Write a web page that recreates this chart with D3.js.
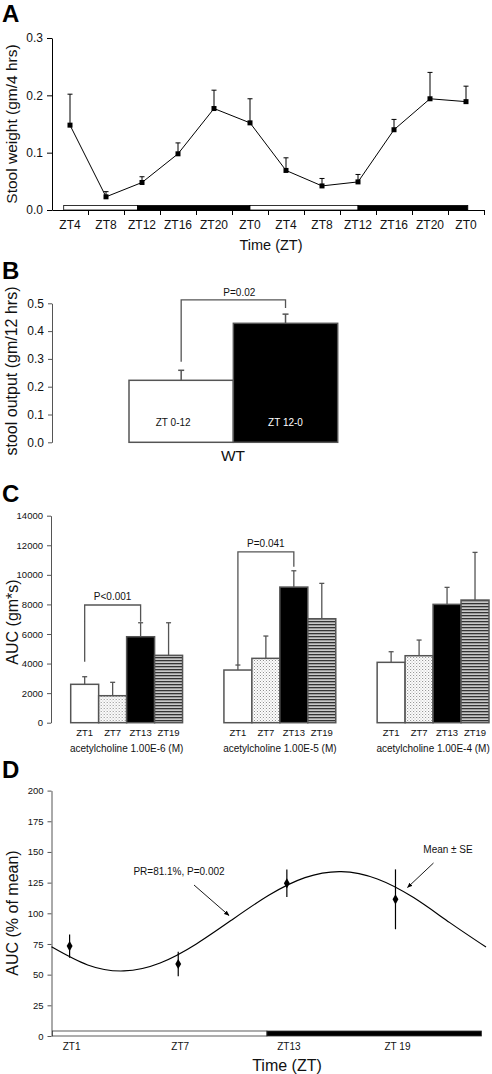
<!DOCTYPE html>
<html><head><meta charset="utf-8">
<script src="https://cdn.jsdelivr.net/npm/d3@7"></script>
<style>
html,body{margin:0;padding:0;background:#fff;}
svg{display:block;font-family:"Liberation Sans",Arial,sans-serif;}
</style></head>
<body><svg id="chart" width="492" height="1074"></svg>
<script>
// ---------- Panel A data ----------
const aLabels = ["ZT4","ZT8","ZT12","ZT16","ZT20","ZT0","ZT4","ZT8","ZT12","ZT16","ZT20","ZT0"];
const aMeans  = [0.148,0.023,0.048,0.098,0.177,0.152,0.069,0.042,0.049,0.140,0.194,0.189];
const aSE     = [0.054,0.009,0.010,0.019,0.032,0.042,0.022,0.013,0.013,0.018,0.046,0.027];
const aYTicks = [0.0,0.1,0.2,0.3];
const aLightDark = [[3.3,11.5,"light"],[11.5,24,"dark"],[24,36,"light"],[36,48.2,"dark"]]; // hours
// ---------- Panel B data ----------
const bLabels = ["ZT 0-12","ZT 12-0"];
const bMeans  = [0.223,0.428];
const bSE     = [0.036,0.033];
const bYTicks = [0.0,0.1,0.2,0.3,0.4,0.5];
const bBracket = {top:0.512, leftBottom:0.29, rightBottom:0.483, label:"P=0.02"};
// ---------- Panel C data ----------
const cGroups = ["acetylcholine 1.00E-6 (M)","acetylcholine 1.00E-5 (M)","acetylcholine 1.00E-4 (M)"];
const cTimes  = ["ZT1","ZT7","ZT13","ZT19"];
const cMeans  = [[2596,1825,5814,4556],[3562,4353,9173,7031],[4083,4530,8004,8295]];
const cSE     = [[514,906,946,2204],[338,1508,1102,2392],[717,1060,1149,3224]];
const cYTicks = [0,2000,4000,6000,8000,10000,12000,14000];
const cBrackets = [
  {group:0, from:"ZT1", to:"ZT13", top:7960, leftBottom:4120, rightBottom:6830, label:"P<0.001"},
  {group:1, from:"ZT1", to:"ZT13", top:11560, leftBottom:3900, rightBottom:10550, label:"P=0.041"}
];
// ---------- Panel D data ----------
const dHours  = [1,7,13,19];
const dLabels = ["ZT1","ZT7","ZT13","ZT 19"];
const dMeans  = [73.3,58.7,124.4,111.4];
const dSE     = [9.5,10.0,11.2,24.4];
const dYTicks = [0,25,50,75,100,125,150,175,200];
const dCurveHours  = [0,2,4,6,8,10,12,14,16,18,20,22,24];
const dCurveValues = [72.7,57.9,53.0,59.5,75.0,95.0,114.7,129.1,134.0,128.0,112.8,92.4,72.5];
const dLightDark = [[0.05,11.9,"light"],[11.9,23.75,"dark"]];

const svg = d3.select("#chart");
const FONT = "'Liberation Sans',Arial,sans-serif";
const GREY = "#555";

function styleAxis(g, color, fs){
  g.selectAll("path,line").attr("stroke", color).attr("stroke-width",1);
  g.selectAll("text").attr("fill","#111").style("font-size",fs+"px").style("font-family",FONT);
}
function panelLetter(t,x,y){
  svg.append("text").attr("x",x).attr("y",y).text(t)
    .style("font-size","24px").style("font-weight","bold").attr("fill","#000");
}
function yLabel(t,x,cy,fs){
  svg.append("text").attr("transform",`translate(${x},${cy}) rotate(-90)`)
    .attr("text-anchor","middle").style("font-size",fs+"px").attr("fill","#111").text(t);
}

// defs
const defs = svg.append("defs");
const dots = defs.append("pattern").attr("id","dots").attr("patternUnits","userSpaceOnUse").attr("width",3).attr("height",3);
dots.append("rect").attr("width",3).attr("height",3).attr("fill","#fff");
dots.append("rect").attr("x",0).attr("y",0).attr("width",1).attr("height",1).attr("fill","#888");
dots.append("rect").attr("x",1.5).attr("y",1.5).attr("width",1).attr("height",1).attr("fill","#aaa");
const stripes = defs.append("pattern").attr("id","stripes").attr("patternUnits","userSpaceOnUse").attr("width",4).attr("height",3);
stripes.append("rect").attr("width",4).attr("height",3).attr("fill","#c8c8c8");
stripes.append("rect").attr("y",0).attr("width",4).attr("height",1.3).attr("fill","#333");
defs.append("marker").attr("id","arrow").attr("viewBox","0 0 10 10").attr("refX",9).attr("refY",5)
  .attr("markerWidth",6).attr("markerHeight",6).attr("orient","auto")
  .append("path").attr("d","M0,1 L10,5 L0,9 z").attr("fill","#000");

// ================= Panel A =================
panelLetter("A",2,22);
{
  const y = d3.scaleLinear().domain([0,0.3]).range([210,38]);
  const x = d3.scaleBand().domain(d3.range(aLabels.length)).range([52,484]).padding(0);
  const xEdge = d3.scaleLinear().domain([0,aLabels.length]).range([52,484]);
  const xh = d3.scaleLinear().domain([4,48]).range([x(0)+x.bandwidth()/2, x(11)+x.bandwidth()/2]);

  const ga = svg.append("g").attr("transform","translate(52,0)")
    .call(d3.axisLeft(y).tickValues(aYTicks).tickFormat(d3.format(".1f")).tickSize(5).tickSizeOuter(0).tickPadding(4));
  styleAxis(ga,"#000",12);
  const gb = svg.append("g").attr("transform","translate(0,210)")
    .call(d3.axisBottom(xEdge).tickValues(d3.range(1,aLabels.length+1)).tickFormat("").tickSize(5).tickSizeOuter(0));
  styleAxis(gb,"#000",12);
  svg.append("g").selectAll("text").data(aLabels).join("text")
    .attr("x",(d,i)=>x(i)+x.bandwidth()/2).attr("y",229).attr("text-anchor","middle")
    .style("font-size","12px").attr("fill","#111").text(d=>d);

  // light/dark bar
  svg.append("g").selectAll("rect").data(aLightDark).join("rect")
    .attr("x",d=>xh(d[0])).attr("width",d=>xh(d[1])-xh(d[0]))
    .attr("y",205.5).attr("height",4.5)
    .attr("fill",d=>d[2]==="dark"?"#000":"#fff").attr("stroke","#000").attr("stroke-width",0.8);

  const cx = i=>x(i)+x.bandwidth()/2;
  // error bars
  const eb = svg.append("g").attr("stroke","#000").attr("stroke-width",1);
  aMeans.forEach((m,i)=>{
    eb.append("line").attr("x1",cx(i)).attr("x2",cx(i)).attr("y1",y(m)).attr("y2",y(m+aSE[i]));
    eb.append("line").attr("x1",cx(i)-2.5).attr("x2",cx(i)+2.5).attr("y1",y(m+aSE[i])).attr("y2",y(m+aSE[i]));
  });
  svg.append("path").datum(aMeans)
    .attr("d",d3.line().x((d,i)=>cx(i)).y(d=>y(d)))
    .attr("fill","none").attr("stroke","#000").attr("stroke-width",1);
  svg.append("g").selectAll("rect").data(aMeans).join("rect")
    .attr("x",(d,i)=>cx(i)-2.5).attr("y",d=>y(d)-2.5).attr("width",5).attr("height",5).attr("fill","#000");

  yLabel("Stool weight (gm/4 hrs)",17,124,15.5);
  svg.append("text").attr("x",271).attr("y",250).attr("text-anchor","middle")
    .style("font-size","14.5px").attr("fill","#111").text("Time (ZT)");
}

// ================= Panel B =================
panelLetter("B",2,279);
{
  const y = d3.scaleLinear().domain([0,0.5]).range([442.3,303.3]);
  const x = d3.scaleBand().domain(bLabels).range([129,337.7]).padding(0);
  const ga = svg.append("g").attr("transform","translate(52,0)")
    .call(d3.axisLeft(y).tickValues(bYTicks).tickFormat(d3.format(".1f")).tickSize(4).tickSizeOuter(0).tickPadding(4));
  styleAxis(ga,GREY,12);

  svg.append("g").selectAll("rect").data(bMeans).join("rect")
    .attr("x",(d,i)=>x(bLabels[i])).attr("width",x.bandwidth())
    .attr("y",d=>y(d)).attr("height",d=>y(0)-y(d))
    .attr("fill",(d,i)=>i===0?"#fff":"#000").attr("stroke",GREY).attr("stroke-width",1.5);
  const eb = svg.append("g").attr("stroke",GREY).attr("stroke-width",1.5);
  bMeans.forEach((m,i)=>{
    const c = x(bLabels[i])+x.bandwidth()/2;
    eb.append("line").attr("x1",c).attr("x2",c).attr("y1",y(m)).attr("y2",y(m+bSE[i]));
    eb.append("line").attr("x1",c-3).attr("x2",c+3).attr("y1",y(m+bSE[i])).attr("y2",y(m+bSE[i]));
  });
  const c0 = x(bLabels[0])+x.bandwidth()/2, c1 = x(bLabels[1])+x.bandwidth()/2;
  svg.append("path")
    .attr("d",`M${c0},${y(bBracket.leftBottom)}V${y(bBracket.top)}H${c1}V${y(bBracket.rightBottom)}`)
    .attr("fill","none").attr("stroke",GREY).attr("stroke-width",1.3);
  svg.append("text").attr("x",(c0+c1)/2+6).attr("y",y(bBracket.top)-4).attr("text-anchor","middle")
    .style("font-size","10px").attr("fill","#111").text(bBracket.label);
  svg.append("g").selectAll("text").data(bLabels).join("text")
    .attr("x",d=>x(d)+x.bandwidth()/2-(d===bLabels[0]?8:0)).attr("y",425.5).attr("text-anchor","middle")
    .style("font-size","10px").attr("fill",(d,i)=>i===0?"#111":"#fff").text(d=>d);
  svg.append("text").attr("x",233).attr("y",461).attr("text-anchor","middle")
    .style("font-size","15.5px").attr("fill","#111").text("WT");
  yLabel("stool output (gm/12 hrs)",17,371,16);
}

// ================= Panel C =================
panelLetter("C",2,502);
{
  const y = d3.scaleLinear().domain([0,14000]).range([722.7,515.7]);
  const xg = d3.scaleBand().domain(cGroups).range([70.7,489]).paddingInner(0.27).paddingOuter(0);
  const xt = d3.scaleBand().domain(cTimes).range([0,xg.bandwidth()]).padding(0);
  const ga = svg.append("g").attr("transform","translate(51,0)")
    .call(d3.axisLeft(y).tickValues(cYTicks).tickFormat(d3.format("d")).tickSize(4).tickSizeOuter(0).tickPadding(4));
  styleAxis(ga,GREY,9.5);
  const fills = ["#fff","url(#dots)","#000","url(#stripes)"];
  cGroups.forEach((gname,gi)=>{
    const g = svg.append("g").attr("transform",`translate(${xg(gname)},0)`);
    g.selectAll("rect").data(cMeans[gi]).join("rect")
      .attr("x",(d,i)=>xt(cTimes[i])).attr("width",xt.bandwidth())
      .attr("y",d=>y(d)).attr("height",d=>y(0)-y(d))
      .attr("fill",(d,i)=>fills[i]).attr("stroke",GREY).attr("stroke-width",1.5);
    const eb = g.append("g").attr("stroke",GREY).attr("stroke-width",1.3);
    cMeans[gi].forEach((m,i)=>{
      const c = xt(cTimes[i])+xt.bandwidth()/2, top = y(m+cSE[gi][i]);
      eb.append("line").attr("x1",c).attr("x2",c).attr("y1",y(m)).attr("y2",top);
      eb.append("line").attr("x1",c-2.5).attr("x2",c+2.5).attr("y1",top).attr("y2",top);
    });
    g.selectAll("text.t").data(cTimes).join("text").attr("class","t")
      .attr("x",d=>xt(d)+xt.bandwidth()/2).attr("y",735.5).attr("text-anchor","middle")
      .style("font-size","9.5px").attr("fill","#111").text(d=>d);
    g.append("text").attr("x",xg.bandwidth()/2).attr("y",751.5).attr("text-anchor","middle")
      .style("font-size","10px").attr("fill","#111").text(gname);
  });
  cBrackets.forEach(b=>{
    const gx = xg(cGroups[b.group]);
    const l = gx+xt(b.from)+xt.bandwidth()/2, r = gx+xt(b.to)+xt.bandwidth()/2;
    svg.append("path").attr("d",`M${l},${y(b.leftBottom)}V${y(b.top)}H${r}V${y(b.rightBottom)}`)
      .attr("fill","none").attr("stroke",GREY).attr("stroke-width",1.3);
    svg.append("text").attr("x",(l+r)/2).attr("y",y(b.top)-5).attr("text-anchor","middle")
      .style("font-size","10px").attr("fill","#111").text(b.label);
  });
  yLabel("AUC (gm*s)",18,622,16);
}

// ================= Panel D =================
panelLetter("D",2,778);
{
  const y = d3.scaleLinear().domain([0,200]).range([1036,790.6]);
  const x = d3.scaleLinear().domain([0,24]).range([51.5,486]);
  const ga = svg.append("g").attr("transform","translate(51.5,0)")
    .call(d3.axisLeft(y).tickValues(dYTicks).tickSize(4).tickSizeOuter(0).tickPadding(4));
  styleAxis(ga,GREY,9.5);
  svg.append("g").selectAll("rect").data(dLightDark).join("rect")
    .attr("x",d=>x(d[0])).attr("width",d=>x(d[1])-x(d[0]))
    .attr("y",1031).attr("height",5)
    .attr("fill",d=>d[2]==="dark"?"#000":"#fff").attr("stroke","#333").attr("stroke-width",0.8);
  svg.append("g").selectAll("text").data(dLabels).join("text")
    .attr("x",(d,i)=>x(dHours[i])+2).attr("y",1049.5).attr("text-anchor","middle")
    .style("font-size","10px").attr("fill","#111").text(d=>d);
  svg.append("path").datum(dCurveValues)
    .attr("d",d3.line().x((d,i)=>x(dCurveHours[i])).y(d=>y(d)).curve(d3.curveNatural))
    .attr("fill","none").attr("stroke","#000").attr("stroke-width",1.2);
  const eb = svg.append("g").attr("stroke","#000").attr("stroke-width",1.2);
  dMeans.forEach((m,i)=>{
    eb.append("line").attr("x1",x(dHours[i])).attr("x2",x(dHours[i])).attr("y1",y(m-dSE[i])).attr("y2",y(m+dSE[i]));
  });
  svg.append("g").selectAll("path.pt").data(dMeans).join("path").attr("class","pt")
    .attr("transform",(d,i)=>`translate(${x(dHours[i])},${y(d)})`)
    .attr("d",d3.symbol(d3.symbolDiamond,30)).attr("fill","#000");
  // annotations
  svg.append("text").attr("x",179).attr("y",875).attr("text-anchor","middle")
    .style("font-size","10px").attr("fill","#111").text("PR=81.1%, P=0.002");
  svg.append("line").attr("x1",194).attr("y1",885).attr("x2",229).attr("y2",915.5)
    .attr("stroke","#000").attr("stroke-width",0.9).attr("marker-end","url(#arrow)");
  svg.append("text").attr("x",448).attr("y",852.5).attr("text-anchor","middle")
    .style("font-size","10px").attr("fill","#111").text("Mean ± SE");
  svg.append("line").attr("x1",433.5).attr("y1",863).attr("x2",407.5).attr("y2",887.5)
    .attr("stroke","#000").attr("stroke-width",0.9).attr("marker-end","url(#arrow)");
  yLabel("AUC (% of mean)",18,913,16);
  svg.append("text").attr("x",287).attr("y",1071).attr("text-anchor","middle")
    .style("font-size","16px").attr("fill","#111").text("Time (ZT)");
}
</script></body></html>
